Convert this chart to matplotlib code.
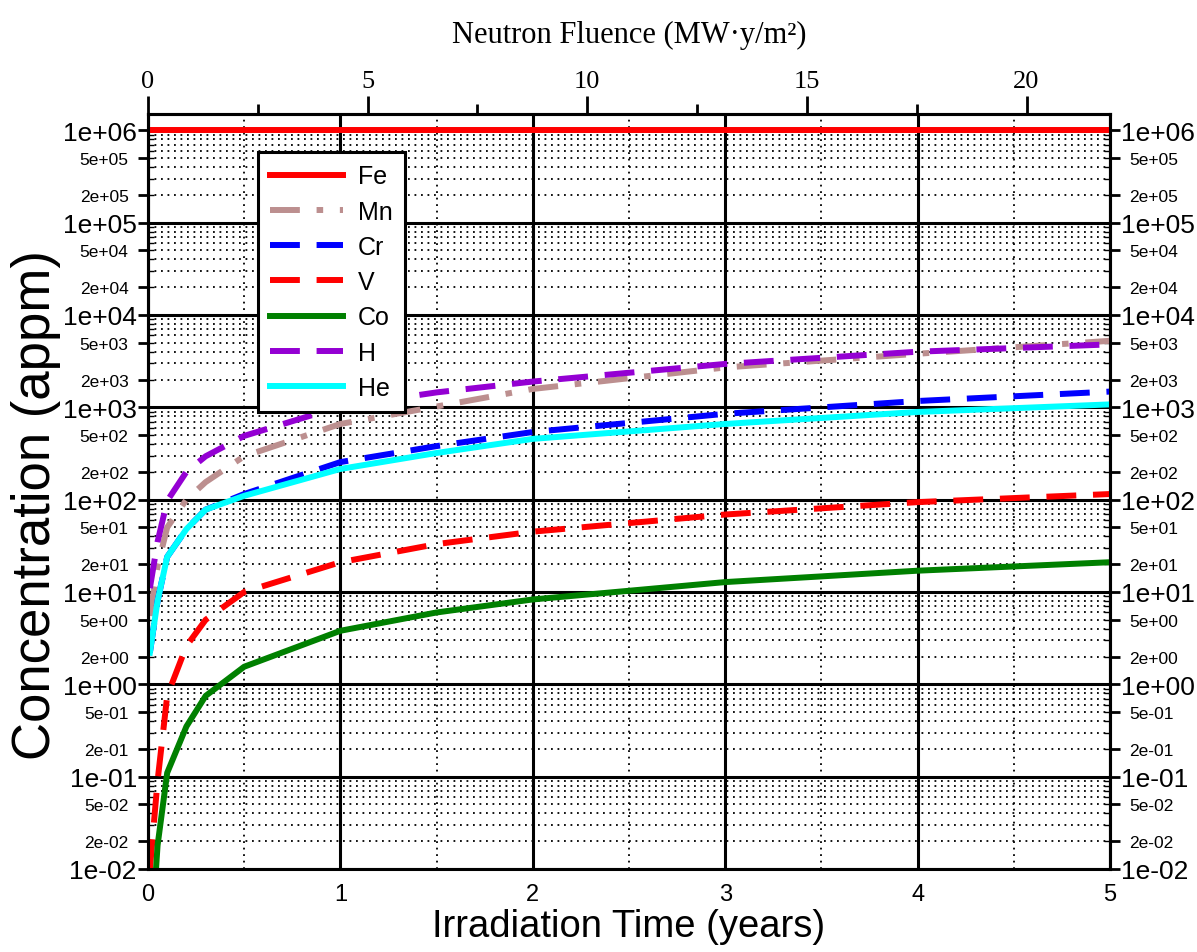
import numpy as np
import matplotlib
matplotlib.use('Agg')
import matplotlib.pyplot as plt
from matplotlib.ticker import LogLocator, NullFormatter, NullLocator, MultipleLocator

# irradiation time (years) and concentrations (appm)
years = [0.01, 0.05, 0.1, 0.2, 0.3, 0.5, 1, 1.5, 2, 3, 4, 5]
fe = [1e6] * 12
mn = [5.5, 19, 50, 100, 155, 295, 660, 1020, 1580, 2700, 3800, 5250]
cr = [2.2, 8, 24, 48, 78, 115, 255, 380, 540, 850, 1170, 1480]
v = [0.01, 0.09, 0.75, 2.6, 5.0, 10, 21, 33, 45, 69, 94, 115]
co = [0.001, 0.018, 0.11, 0.35, 0.75, 1.55, 3.8, 6.0, 8.3, 12.8, 17, 21]
h = [11, 35, 97, 200, 295, 490, 1020, 1450, 1900, 2950, 4000, 4800]
he = [2.2, 8, 24, 48, 78, 110, 215, 320, 455, 660, 890, 1075]

fluence_per_year = 4.38
fluence_ticks = [0, 5, 10, 15, 20]

plt.rcParams['font.family'] = ['Liberation Sans', 'DejaVu Sans']

fig = plt.figure(figsize=(11.97, 9.53), dpi=100)
ax = fig.add_axes([0.1236, 0.0871, 0.8037, 0.7922])

lw = 4.3
dash = (5, 2.8)
ax.plot(years, fe, color='#ff0000', lw=lw, label='Fe')
ax.plot(years, mn, color='#bc8f8f', lw=lw, dashes=(5, 2.8, 1.1, 2.8), label='Mn')
ax.plot(years, cr, color='#0000ff', lw=lw, dashes=dash, label='Cr')
ax.plot(years, v, color='#ff0000', lw=lw, dashes=dash, label='V')
ax.plot(years, co, color='#008000', lw=lw, label='Co')
ax.plot(years, h, color='#9400d3', lw=lw, dashes=dash, label='H')
ax.plot(years, he, color='#00ffff', lw=lw, label='He')

ax.set_yscale('log')
ax.set_xlim(0, 5)
ax.set_ylim(1e-2, 1.5e6)

# y ticks: decades big, 2/5 small
decades = 10.0 ** np.arange(-2, 7)
ax.set_yticks(decades, labels=[f'{d:.0e}' for d in decades])
ax.yaxis.set_minor_locator(LogLocator(base=10, subs=np.arange(2, 10), numticks=100))
ax.yaxis.set_minor_formatter(NullFormatter())
ax.tick_params(axis='y', which='major', direction='inout', length=14, width=2,
               labelsize=19, pad=1, left=True, right=True, labelright=True)
ax.tick_params(axis='y', which='minor', direction='in', length=4, width=1,
               left=True, right=True)

small = [m * d for d in decades[:-1] for m in (2, 5)]
small_lbls = [f'{s:.0e}' for s in small]
for side in ('left', 'right'):
    sec = ax.secondary_yaxis(side)
    sec.set_yticks(small, labels=small_lbls)
    sec.yaxis.set_minor_locator(NullLocator())
    sec.tick_params(axis='y', which='major', direction='out', length=7, width=2,
                    labelsize=12.5, pad=7)
    sec.spines[side].set_linewidth(2.2)

# x ticks
ax.set_xticks(range(6))
ax.xaxis.set_minor_locator(MultipleLocator(0.5))
ax.tick_params(axis='x', which='both', length=0, labelsize=17, pad=10)

ax.grid(which='major', color='k', lw=2.2, ls='-')
ax.grid(which='minor', color='k', lw=1.3, ls=(0, (1, 2.6)))
ax.set_axisbelow(True)
for sp in ax.spines.values():
    sp.set_linewidth(2.2)

ax.set_xlabel('Irradiation Time (years)', fontsize=27.5, labelpad=2)
ax.set_ylabel('Concentration (appm)', fontsize=38)
ax.yaxis.set_label_coords(-0.09, 0.483)

# top axis: neutron fluence
secx = ax.secondary_xaxis('top', functions=(lambda t: t * fluence_per_year,
                                            lambda f: f / fluence_per_year))
secx.set_xticks(fluence_ticks, labels=[str(f) for f in fluence_ticks],
                family='Liberation Serif')
secx.xaxis.set_minor_locator(MultipleLocator(2.5))
secx.tick_params(which='major', direction='out', length=13, width=2, labelsize=19, pad=3)
secx.tick_params(which='minor', direction='out', length=7, width=2)
secx.spines['top'].set_linewidth(2.2)
secx.set_xlabel('Neutron Fluence (MW·y/m²)', family='Liberation Serif',
                fontsize=22, labelpad=20)

leg = ax.legend(loc='upper left', bbox_to_anchor=(0.114, 0.950), borderaxespad=0,
                fancybox=False, framealpha=1, edgecolor='k', handlelength=2.9,
                handletextpad=0.6, labelspacing=0.45, borderpad=0.5,
                prop={'size': 18})
leg.get_frame().set_linewidth(2.2)

fig.savefig('out.png', dpi=100)
